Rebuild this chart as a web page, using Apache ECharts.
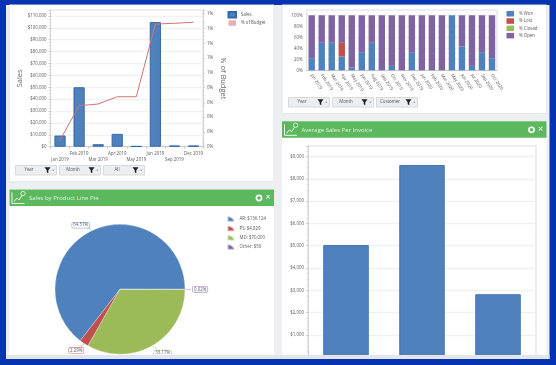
<!DOCTYPE html>
<html>
<head>
<meta charset="utf-8">
<style>html,body{margin:0;padding:0;background:#0633b0}#c{width:556px;height:365px;filter:blur(0.35px)}</style>
<script src="https://cdn.jsdelivr.net/npm/echarts@6/dist/echarts.min.js"></script>
</head>
<body>
<div id="c"></div>
<script>
// --- Sales vs budget ---
var salesMonths = ['Jan 2019','Feb 2019','Mar 2019','Apr 2019','May 2019','Jun 2019','Sep 2019','Dec 2019'];
var salesValues = [9400, 50000, 2100, 10800, 500, 104800, 1000, 1000];
var budgetPct = [0.045, 0.277, 0.289, 0.338, 0.338, 0.83, 0.835, 0.842];
// --- Pipeline status ---
var statusMonths = ['Jan 2019','Feb 2019','Mar 2019','Apr 2019','May 2019','Jun 2019','Aug 2019','Sep 2019','Oct 2019','Nov 2019','Dec 2019','Jan 2020','Feb 2020','Mar 2020','May 2020','Jun 2020','Jul 2020','Sep 2020','Oct 2020'];
var pctWon    = [22, 50, 50, 25, 5, 33, 50, 0, 8, 0, 33, 0, 0, 0, 100, 43, 8, 33, 22];
var pctLost   = [0, 0, 0, 25, 0, 0, 0, 0, 0, 0, 0, 0, 0, 0, 0, 0, 0, 0, 0];
var pctClosed = [0, 0, 0, 0, 0, 0, 0, 0, 0, 0, 0, 0, 0, 0, 0, 0, 0, 0, 0];
var pctOpen   = [78, 50, 50, 50, 95, 67, 50, 100, 92, 100, 67, 100, 100, 100, 0, 57, 92, 67, 78];
// --- Product line pie ---
var productNames = ['AR: $136,124', 'PS: $4,829', 'MD: $70,000', 'Other: $50'];
var productValues = [136124, 4829, 70000, 50];
// --- Average invoice ---
var invoiceCats = ['A', 'B', 'C'];
var invoiceValues = [5030, 8620, 2825];
// --- Filter buttons ---
var filtersLeft = ['Year', 'Month', 'All'];
var filtersRight = ['Year', 'Month', 'Customer'];

var BLUE='#4f81bd', RED='#c0504d', GREEN='#9bbb59', PURPLE='#8064a2';
var TXT='#5a5a5a';
var FS=4.4;
function money(v){return '$'+Number(v).toLocaleString('en-US');}
function rect(x,y,w,h,fill,z,stroke){return {type:'rect',shape:{x:x,y:y,width:w,height:h},style:{fill:fill,stroke:stroke||null,lineWidth:stroke?1:0},z:z,silent:true};}
function label(x,y,t,size,color,align,z){return {type:'text',x:x,y:y,style:{text:t,fontSize:size,fill:color,fontFamily:'Open Sans',align:align||'left',verticalAlign:'middle'},z:z||5,silent:true};}
function button(x,y,t){
  return [
    rect(x+.5,y+.5,41,9.5,'#eceef1',4,'#d6dade'),
    label(x+14,y+5.2,t,FS,'#555','center'),
    {type:'polygon',shape:{points:[[x+29.5,y+2.2],[x+35.5,y+2.2],[x+33.3,y+5.2],[x+33.3,y+8.2],[x+31.7,y+7.2],[x+31.7,y+5.2]]},style:{fill:'#222'},z:5,silent:true},
    {type:'polygon',shape:{points:[[x+37.3,y+4.8],[x+39.3,y+4.8],[x+38.3,y+6]]},style:{fill:'#777'},z:5,silent:true}
  ];
}
function header(x,y,w,t){
  return [
    rect(x,y,w,16.5,'#5cb85c',3),
    {type:'polyline',shape:{points:[[x+2.5,y+3],[x+2.5,y+14],[x+15,y+14]]},style:{stroke:'#fff',fill:null,lineWidth:1,opacity:.9},z:4,silent:true},
    {type:'polyline',shape:{points:[[x+4.5,y+12],[x+7.5,y+8.5],[x+9.5,y+10.5],[x+12.5,y+6]]},style:{stroke:'#fff',fill:null,lineWidth:1,opacity:.9},z:4,silent:true},
    {type:'circle',shape:{cx:x+13.5,cy:y+4,r:2.2},style:{stroke:'#fff',fill:null,lineWidth:.8,opacity:.9},z:4,silent:true},
    label(x+19.5,y+8.6,t,6,'#e4f3e4','left'),
    {type:'circle',shape:{cx:x+w-15,cy:y+8.5,r:2.6},style:{stroke:'#fff',fill:null,lineWidth:1.6},z:4,silent:true},
    label(x+w-6,y+8.2,'\u00d7',9,'#fff','center')
  ];
}
var graphics = [].concat(
  [ rect(0,0,556,365,'#0633b0',-10),
    rect(6,5,543.5,354,'#edeff2',-9),
    rect(9.3,5,264.7,176.7,'#fff',-8,'#e3e5e8'),
    rect(282,5,264.5,108.5,'#fff',-8,'#e3e5e8'),
    rect(9.3,189,264.7,170,'#fff',-8),
    rect(282,121,264.5,238,'#fff',-8)
  ],
  header(9.5,189.5,264.5,'Sales by Product Line Pie'),
  header(282,121.3,264.5,'Average Sales Per Invoice'),
  button(15,165,filtersLeft[0]), button(59,165,filtersLeft[1]), button(103,165,filtersLeft[2]),
  button(288,97,filtersRight[0]), button(332,97,filtersRight[1]), button(376,97,filtersRight[2]),
  [ rect(6,355,543.5,4,'#e3e5e8',50), rect(0,359,556,6,'#0633b0',51),
    rect(6,5,268,0.6,'#fff',50) ]
);
var axisLbl={fontSize:FS,color:TXT,fontFamily:'Open Sans'};
var yLine={show:true,lineStyle:{color:'#d5d5d5',width:1}};
var split={show:true,lineStyle:{color:'#f1f1f1',width:1.3}};
var minor={show:true,splitNumber:4,length:1.5,lineStyle:{color:'#d0d0d0',width:.7}};
var legendText={fontSize:FS,color:TXT,fontFamily:'Open Sans'};
// pie label offsets
var pieLabelShift=[[7,-3],[9,4.5],[-8,5],[-3,0]];

var option={
  animation:false,
  backgroundColor:'transparent',
  textStyle:{fontFamily:'Open Sans'},
  graphic:{elements:graphics},
  legend:[
    {left:227.5,top:11,padding:0,orient:'vertical',icon:'rect',itemWidth:7.5,itemHeight:5.5,itemGap:1.8,textStyle:legendText,data:[{name:'Sales'},{name:'% of Budget',icon:'rect',itemStyle:{opacity:1,color:'#e3b2b0'}}]},
    {left:506.5,top:11,padding:0,orient:'vertical',icon:'rect',itemWidth:7.5,itemHeight:5.5,itemGap:1.8,textStyle:legendText,data:['% Won','% Lost','% Closed','% Open']},
    {left:226.5,top:215.3,padding:0,orient:'vertical',itemWidth:7,itemHeight:5.5,itemGap:1.85,symbolKeepAspect:false,icon:'path://M0,10 L0,0 A10,10 0 0 1 10,10 Z',textStyle:legendText,data:productNames}
  ],
  grid:[
    {left:50.5,top:10,width:152.5,height:136.7,show:true,borderColor:'#e3e3e3',borderWidth:1.3,backgroundColor:'#fff'},
    {left:306.7,top:10,width:190.3,height:60.3,show:true,borderColor:'#e3e3e3',borderWidth:1.3,backgroundColor:'#fff'},
    {left:308,top:146,width:228,height:211.3,show:true,borderColor:'#e3e3e3',borderWidth:1.3,backgroundColor:'#fff'}
  ],
  xAxis:[
    {type:'category',gridIndex:0,data:salesMonths,axisTick:{show:true,alignWithLabel:false,length:2,lineStyle:{color:'#ccc'}},axisLine:{lineStyle:{color:'#ccc'}},
     axisLabel:{interval:0,fontSize:FS,color:TXT,margin:4,lineHeight:6,
       formatter:function(v,i){return i%2===0?'\n'+v:v;}}},
    {type:'category',gridIndex:1,data:statusMonths,axisTick:{show:false},axisLine:{lineStyle:{color:'#ccc'}},
     axisLabel:{interval:0,fontSize:FS,color:TXT,rotate:-57,margin:4}},
    {type:'category',gridIndex:2,data:invoiceCats,axisTick:{show:false},axisLine:{lineStyle:{color:'#ccc'}},axisLabel:{show:false}}
  ],
  yAxis:[
    {type:'value',gridIndex:0,min:0,max:115000,interval:10000,axisLine:yLine,axisTick:{show:true,length:2,lineStyle:{color:'#ccc'}},minorTick:minor,splitLine:split,
     name:'Sales',nameLocation:'middle',nameRotate:90,nameGap:25,nameTextStyle:{fontSize:7.5,color:'#666'},
     axisLabel:Object.assign({},axisLbl,{showMaxLabel:false,margin:4,formatter:function(v){return v>110000?'':money(v);}})},
    {type:'value',gridIndex:0,position:'right',min:0,max:0.925,interval:0.1,axisLine:yLine,axisTick:{show:true,length:2,lineStyle:{color:'#ccc'}},minorTick:minor,splitLine:{show:false},
     name:'% of Budget',nameLocation:'middle',nameRotate:-90,nameGap:16,nameTextStyle:{fontSize:7.5,color:'#666'},
     axisLabel:Object.assign({},axisLbl,{showMaxLabel:false,margin:4,formatter:function(v){return v>0.9001?'':Math.round(v+1e-9)+'%';}})},
    {type:'value',gridIndex:1,min:0,max:109.6,interval:20,axisLine:{show:false},axisTick:{show:false},splitLine:split,
     axisLabel:Object.assign({},axisLbl,{showMaxLabel:false,margin:4,formatter:function(v){return v>100?'':v+'%';}})},
    {type:'value',gridIndex:2,min:0,max:9470,interval:1000,axisLine:yLine,axisTick:{show:true,length:2,lineStyle:{color:'#ccc'}},minorTick:minor,splitLine:split,
     axisLabel:Object.assign({},axisLbl,{showMaxLabel:false,showMinLabel:false,margin:4,formatter:function(v){return v>9000?'':money(v);}})}
  ],
  series:[
    {name:'Sales',type:'bar',xAxisIndex:0,yAxisIndex:0,data:salesValues,barWidth:11.2,itemStyle:{color:BLUE,borderColor:'#3368a8',borderWidth:1}},
    {name:'% of Budget',type:'line',xAxisIndex:0,yAxisIndex:1,data:budgetPct,showSymbol:false,symbol:'none',z:5,lineStyle:{color:'#d07572',width:1}},
    {name:'% Won',type:'bar',stack:'s',xAxisIndex:1,yAxisIndex:2,data:pctWon,barWidth:6.4,itemStyle:{color:BLUE}},
    {name:'% Lost',type:'bar',stack:'s',xAxisIndex:1,yAxisIndex:2,data:pctLost,barWidth:6.4,itemStyle:{color:RED}},
    {name:'% Closed',type:'bar',stack:'s',xAxisIndex:1,yAxisIndex:2,data:pctClosed,barWidth:6.4,itemStyle:{color:GREEN}},
    {name:'% Open',type:'bar',stack:'s',xAxisIndex:1,yAxisIndex:2,data:pctOpen,barWidth:6.4,itemStyle:{color:PURPLE}},
    {name:'Average Sales',type:'bar',xAxisIndex:2,yAxisIndex:3,data:invoiceValues,barWidth:45.5,itemStyle:{color:BLUE,borderColor:'#4474b2',borderWidth:1}},
    {name:'Sales by Product Line',type:'pie',center:[120,289.3],radius:[0,65],startAngle:0,clockwise:false,avoidLabelOverlap:false,
     data:productNames.map(function(n,i){return {name:n,value:productValues[i],
       itemStyle:{color:[BLUE,RED,GREEN,PURPLE][i]},
       label:{borderColor:['#9db8d8','#d89e9c','#c4d69e','#b3a2c8'][i]},
       labelLine:{lineStyle:{color:['#9db8d8','#d89e9c','#c4d69e','#b3a2c8'][i]}}};}),
     label:{show:true,fontSize:FS,color:TXT,backgroundColor:'#fff',borderWidth:.8,borderRadius:1,padding:[.5,1,.5,1],
       formatter:function(p){return (p.value/productValues.reduce(function(a,b){return a+b;},0)*100).toFixed(2)+'%';}},
     labelLine:{show:true,length:3,length2:3,lineStyle:{width:.7}},
     labelLayout:function(p){return {dx:pieLabelShift[p.dataIndex][0],dy:pieLabelShift[p.dataIndex][1]};},
     itemStyle:{borderColor:'rgba(255,255,255,.55)',borderWidth:.5}}
  ]
};
var chart=echarts.init(document.getElementById('c'),null,{renderer:'canvas'});
chart.setOption(option);
</script>
</body>
</html>
